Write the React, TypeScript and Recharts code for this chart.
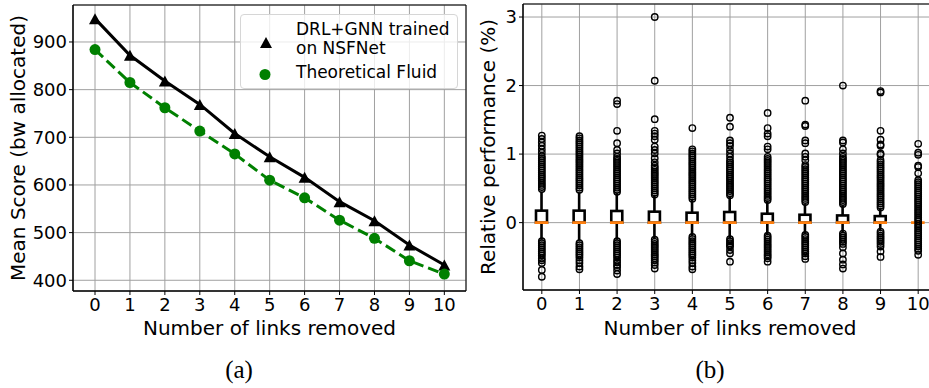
import React from 'react';
import {
  ComposedChart,
  Line,
  Bar,
  Scatter,
  XAxis,
  YAxis,
  CartesianGrid,
  Legend,
  Label,
  ReferenceArea,
} from 'recharts';

// (a) mean score per number of removed links
const LINKS_REMOVED = [0, 1, 2, 3, 4, 5, 6, 7, 8, 9, 10];
const DRL_GNN_SCORE = [949, 872, 818, 769, 708, 659, 616, 565, 525, 474, 432];
const FLUID_SCORE = [884, 815, 762, 713, 665, 610, 573, 526, 488, 441, 413];
const SCORE_TICKS = [400, 500, 600, 700, 800, 900];
const SCORE_DOMAIN: [number, number] = [377.5, 977.6];
const LINKS_DOMAIN_A: [number, number] = [-0.63, 10.62];

// (b) relative performance box plot
const BOX_Q1 = [0, 0, 0, 0, 0, 0, 0, 0, 0, 0, 0];
const BOX_MEDIAN = [0, 0, 0, 0, 0, 0, 0, 0, 0, 0, 0];
const BOX_Q3 = [0.175, 0.175, 0.17, 0.16, 0.145, 0.155, 0.13, 0.115, 0.105, 0.095, 0];
const WHISKER_HIGH = [0.45, 0.44, 0.43, 0.4, 0.34, 0.38, 0.32, 0.27, 0.25, 0.21, 0];
const WHISKER_LOW = [-0.25, -0.26, -0.25, -0.24, -0.2, -0.23, -0.18, -0.17, -0.15, -0.12, 0];
const OUTLIERS: number[][] = [
  [1.27, 1.22, 1.17, 1.12, 1.07, 1.02, 0.97, 0.94, 0.91, 0.88, 0.85, 0.82, 0.79, 0.76, 0.73, 0.7, 0.67, 0.64, 0.61, 0.58, 0.55, 0.52, 0.49,
    -0.27, -0.3, -0.33, -0.36, -0.39, -0.42, -0.45, -0.48, -0.52, -0.55, -0.59, -0.69, -0.79],
  [1.26, 1.23, 1.2, 1.17, 1.14, 1.11, 1.08, 1.05, 1.02, 0.99, 0.96, 0.93, 0.9, 0.87, 0.84, 0.81, 0.78, 0.75, 0.72, 0.69, 0.66, 0.63, 0.6, 0.57, 0.54, 0.51, 0.48,
    -0.3, -0.33, -0.36, -0.39, -0.42, -0.45, -0.48, -0.51, -0.55, -0.59, -0.64, -0.68],
  [1.78, 1.73, 1.34, 1.16, 1.06, 1.01, 0.96, 0.93, 0.9, 0.87, 0.84, 0.81, 0.78, 0.75, 0.72, 0.69, 0.66, 0.63, 0.6, 0.57, 0.54, 0.51, 0.48, 0.45,
    -0.27, -0.3, -0.33, -0.36, -0.39, -0.42, -0.45, -0.48, -0.51, -0.55, -0.58, -0.62, -0.65, -0.7, -0.75],
  [3.0, 2.07, 1.51, 1.34, 1.3, 1.26, 1.21, 1.11, 1.06, 1.01, 0.94, 0.88, 0.83, 0.8, 0.77, 0.74, 0.71, 0.68, 0.65, 0.62, 0.59, 0.56, 0.53, 0.5, 0.47, 0.44, 0.41,
    -0.25, -0.28, -0.31, -0.34, -0.37, -0.4, -0.43, -0.46, -0.49, -0.52, -0.55, -0.58, -0.62, -0.67],
  [1.38, 1.07, 1.04, 1.01, 0.98, 0.95, 0.92, 0.89, 0.86, 0.83, 0.8, 0.77, 0.74, 0.71, 0.68, 0.65, 0.62, 0.59, 0.56, 0.53, 0.5, 0.47, 0.44, 0.41, 0.38, 0.35,
    -0.21, -0.24, -0.27, -0.3, -0.33, -0.36, -0.39, -0.42, -0.45, -0.48, -0.51, -0.55, -0.59, -0.64, -0.68],
  [1.53, 1.4, 1.2, 1.16, 1.12, 1.06, 1.01, 0.96, 0.91, 0.88, 0.85, 0.82, 0.79, 0.76, 0.73, 0.7, 0.67, 0.64, 0.61, 0.58, 0.55, 0.52, 0.49, 0.46, 0.43, 0.4,
    -0.24, -0.27, -0.3, -0.33, -0.35, -0.4, -0.45, -0.57],
  [1.6, 1.38, 1.3, 1.26, 1.11, 1.07, 0.96, 0.93, 0.9, 0.87, 0.84, 0.81, 0.78, 0.75, 0.72, 0.69, 0.66, 0.63, 0.6, 0.57, 0.54, 0.51, 0.48, 0.45, 0.42, 0.39, 0.36, 0.33,
    -0.19, -0.22, -0.25, -0.28, -0.31, -0.34, -0.37, -0.4, -0.43, -0.46, -0.49, -0.52, -0.57],
  [1.78, 1.43, 1.41, 1.2, 1.16, 1.01, 0.96, 0.91, 0.84, 0.81, 0.78, 0.75, 0.72, 0.69, 0.66, 0.63, 0.6, 0.57, 0.54, 0.51, 0.48, 0.45, 0.42, 0.39, 0.36, 0.33, 0.3,
    -0.18, -0.21, -0.24, -0.27, -0.3, -0.33, -0.36, -0.39, -0.42, -0.45, -0.49, -0.53],
  [2.0, 1.2, 1.17, 1.07, 1.01, 0.96, 0.93, 0.9, 0.87, 0.84, 0.81, 0.78, 0.75, 0.72, 0.69, 0.66, 0.63, 0.6, 0.57, 0.54, 0.51, 0.48, 0.45, 0.42, 0.39, 0.36, 0.33, 0.3, 0.27,
    -0.16, -0.19, -0.22, -0.25, -0.28, -0.31, -0.36, -0.45, -0.54, -0.61, -0.67],
  [1.92, 1.9, 1.34, 1.21, 1.14, 1.12, 1.01, 0.99, 0.91, 0.88, 0.85, 0.82, 0.79, 0.76, 0.73, 0.7, 0.67, 0.64, 0.61, 0.58, 0.55, 0.52, 0.49, 0.46, 0.43, 0.4, 0.37, 0.34, 0.31, 0.28, 0.25, 0.22,
    -0.13, -0.16, -0.19, -0.22, -0.25, -0.28, -0.31, -0.35, -0.42, -0.5],
  [1.15, 1.02, 0.99, 0.83, 0.81, 0.72, 0.62, 0.59, 0.56, 0.53, 0.5, 0.47, 0.44, 0.41, 0.38, 0.35, 0.32, 0.29, 0.26, 0.23, 0.2, 0.17, 0.14, 0.11, 0.08, 0.05, 0.02,
    -0.02, -0.05, -0.08, -0.11, -0.14, -0.17, -0.2, -0.23, -0.26, -0.29, -0.32, -0.35, -0.38, -0.41, -0.47],
];
const REL_TICKS = [0, 1, 2, 3];
const REL_DOMAIN: [number, number] = [-0.983, 3.19];
const LINKS_DOMAIN_B: [number, number] = [-0.5, 10.5];

const FONT = 'DejaVu Sans';
const GRID = '#a0a0a0';
const GREEN = '#008000';
const ORANGE = '#ff7f0e';

const tickStyle = { fontSize: 18, fill: '#000', fontFamily: FONT };

const xTitle = (text: string, dy: number) => (props: any) => {
  const vb = props.viewBox || { x: 0, y: 0, width: 0 };
  return (
    <text x={vb.x + vb.width / 2} y={vb.y + dy} textAnchor="middle" fontSize={20} fontFamily={FONT} fill="#000">
      {text}
    </text>
  );
};

const yTitle = (text: string, dx: number) => (props: any) => {
  const vb = props.viewBox || { x: 0, y: 0, height: 0 };
  const x = vb.x + dx;
  const y = vb.y + vb.height / 2;
  return (
    <text x={x} y={y} transform={`rotate(-90, ${x}, ${y})`} textAnchor="middle" fontSize={20} fontFamily={FONT} fill="#000">
      {text}
    </text>
  );
};

function TriangleDot(props: any) {
  const { cx, cy } = props;
  if (cx == null || cy == null) return null;
  return <path d={`M${cx},${cy - 5.5} L${cx + 6},${cy + 5.5} L${cx - 6},${cy + 5.5} Z`} fill="#000" />;
}

function CircleDot(props: any) {
  const { cx, cy } = props;
  if (cx == null || cy == null) return null;
  return <circle cx={cx} cy={cy} r={5.5} fill={GREEN} />;
}

function FlierDot(props: any) {
  const { cx, cy } = props;
  if (cx == null || cy == null) return null;
  return <circle cx={cx} cy={cy} r={3.2} fill="none" stroke="#000" strokeWidth={1.4} />;
}

// whiskers + box + median, pixel positions taken from the bar's own [low, high] scale output
function BoxShape(props: any) {
  const { x, y, width, height, payload } = props;
  if (x == null || y == null || !payload) return null;
  const top = Math.min(y, y + height);
  const bottom = Math.max(y, y + height);
  const span = payload.hi - payload.lo;
  const toPx = (v: number) => (span === 0 ? top : top + ((bottom - top) * (payload.hi - v)) / span);
  const cx = x + width / 2;
  const q3 = toPx(payload.q3);
  const q1 = toPx(payload.q1);
  const med = toPx(payload.median);
  return (
    <g>
      <line x1={cx} x2={cx} y1={top} y2={q3} stroke="#000" strokeWidth={2.6} />
      <line x1={cx} x2={cx} y1={q1} y2={bottom} stroke="#000" strokeWidth={2.6} />
      {q1 - q3 > 0.5 && (
        <rect x={x} y={q3} width={width} height={q1 - q3} fill="#fff" stroke="#000" strokeWidth={2.6} />
      )}
      <line x1={x - 1.3} x2={x + width + 1.3} y1={med} y2={med} stroke={ORANGE} strokeWidth={2.8} />
    </g>
  );
}

function ScoreLegend() {
  const text = { position: 'absolute' as const, left: 55, fontSize: 17, lineHeight: '19px', fontFamily: FONT, color: '#000', whiteSpace: 'nowrap' as const };
  return (
    <div
      style={{
        position: 'relative',
        width: 218,
        height: 75,
        boxSizing: 'border-box',
        border: '1px solid #d6d6d6',
        borderRadius: 4,
        background: 'rgba(255,255,255,0.8)',
      }}
    >
      <svg width={50} height={75} style={{ position: 'absolute', left: 0, top: 0 }}>
        <TriangleDot cx={25} cy={27.5} />
        <CircleDot cx={24} cy={59.5} />
      </svg>
      <div style={{ ...text, top: 5 }}>
        DRL+GNN trained
        <br />
        on NSFNet
      </div>
      <div style={{ ...text, top: 48 }}>Theoretical Fluid</div>
    </div>
  );
}

export default function App() {
  const scoreData = LINKS_REMOVED.map((x, i) => ({ x, drl: DRL_GNN_SCORE[i], fluid: FLUID_SCORE[i] }));
  const boxData = LINKS_REMOVED.map((x, i) => ({
    x,
    q1: BOX_Q1[i],
    median: BOX_MEDIAN[i],
    q3: BOX_Q3[i],
    lo: WHISKER_LOW[i],
    hi: WHISKER_HIGH[i],
  }));
  const flierData = OUTLIERS.flatMap((vals, i) => vals.map((y) => ({ x: LINKS_REMOVED[i], y })));

  const caption = { position: 'absolute' as const, top: 356, fontFamily: 'Liberation Serif', fontSize: 25, color: '#000' };

  return (
    <div style={{ position: 'absolute', left: 0, top: 0, width: 929, height: 388, background: '#fff', overflow: 'hidden' }}>
      {/* (a) */}
      <div style={{ position: 'absolute', left: 0, top: 0 }}>
        <ComposedChart width={470} height={345} data={scoreData} margin={{ top: 5, right: 4, bottom: 0, left: 0 }}>
          <CartesianGrid stroke={GRID} strokeWidth={1} />
          <XAxis
            dataKey="x"
            type="number"
            domain={LINKS_DOMAIN_A}
            ticks={LINKS_REMOVED}
            interval={0}
            allowDataOverflow
            height={54}
            tick={tickStyle}
            tickSize={4}
            tickMargin={3}
            stroke="#000"
          >
            <Label content={xTitle('Number of links removed', 44)} />
          </XAxis>
          <YAxis
            type="number"
            domain={SCORE_DOMAIN}
            ticks={SCORE_TICKS}
            allowDataOverflow
            width={73}
            tick={tickStyle}
            tickSize={4}
            tickMargin={2}
            stroke="#000"
          >
            <Label content={yTitle('Mean Score (bw allocated)', 25)} />
          </YAxis>
          <ReferenceArea x1={LINKS_DOMAIN_A[0]} x2={LINKS_DOMAIN_A[1]} y1={SCORE_DOMAIN[0]} y2={SCORE_DOMAIN[1]} fill="none" fillOpacity={0} stroke="#000" strokeWidth={1} />
          <Line
            dataKey="drl"
            type="linear"
            stroke="#000"
            strokeWidth={3}
            dot={(p: any) => <TriangleDot key={`t-${p.index}`} {...p} />}
            activeDot={false}
            isAnimationActive={false}
          />
          <Line
            dataKey="fluid"
            type="linear"
            stroke={GREEN}
            strokeWidth={3}
            strokeDasharray="11 5"
            dot={(p: any) => <CircleDot key={`c-${p.index}`} {...p} />}
            activeDot={false}
            isAnimationActive={false}
          />
          <Legend
            layout="vertical"
            align="center"
            verticalAlign="middle"
            content={() => <ScoreLegend />}
            wrapperStyle={{ position: 'absolute', left: 240, top: 14, width: 218, height: 75 }}
          />
        </ComposedChart>
      </div>

      {/* (b) */}
      <div style={{ position: 'absolute', left: 470, top: 0, width: 459, height: 345, overflow: 'hidden' }}>
        <ComposedChart width={471} height={345} data={boxData} margin={{ top: 4, right: 4, bottom: 0, left: 0 }}>
          <CartesianGrid stroke={GRID} strokeWidth={1} />
          <XAxis
            dataKey="x"
            type="number"
            domain={LINKS_DOMAIN_B}
            ticks={LINKS_REMOVED}
            interval={0}
            allowDataOverflow
            height={55}
            tick={tickStyle}
            tickSize={4}
            tickMargin={3}
            stroke="#000"
          >
            <Label content={xTitle('Number of links removed', 45)} />
          </XAxis>
          <YAxis
            type="number"
            domain={REL_DOMAIN}
            ticks={REL_TICKS}
            allowDataOverflow
            width={53}
            tick={tickStyle}
            tickSize={4}
            tickMargin={2}
            stroke="#000"
          >
            <Label content={yTitle('Relative performance (%)', 25)} />
          </YAxis>
          <ReferenceArea x1={LINKS_DOMAIN_B[0]} x2={LINKS_DOMAIN_B[1]} y1={REL_DOMAIN[0]} y2={REL_DOMAIN[1]} fill="none" fillOpacity={0} stroke="#000" strokeWidth={1} />
          <Bar dataKey={(d: any) => [d.lo, d.hi]} barSize={11} shape={<BoxShape />} isAnimationActive={false} />
          <Scatter data={flierData} dataKey="y" shape={<FlierDot />} isAnimationActive={false} />
        </ComposedChart>
      </div>

      <div style={{ ...caption, left: 0, width: 478, textAlign: 'center' }}>(a)</div>
      <div style={{ ...caption, left: 470, width: 480, textAlign: 'center' }}>(b)</div>
    </div>
  );
}
